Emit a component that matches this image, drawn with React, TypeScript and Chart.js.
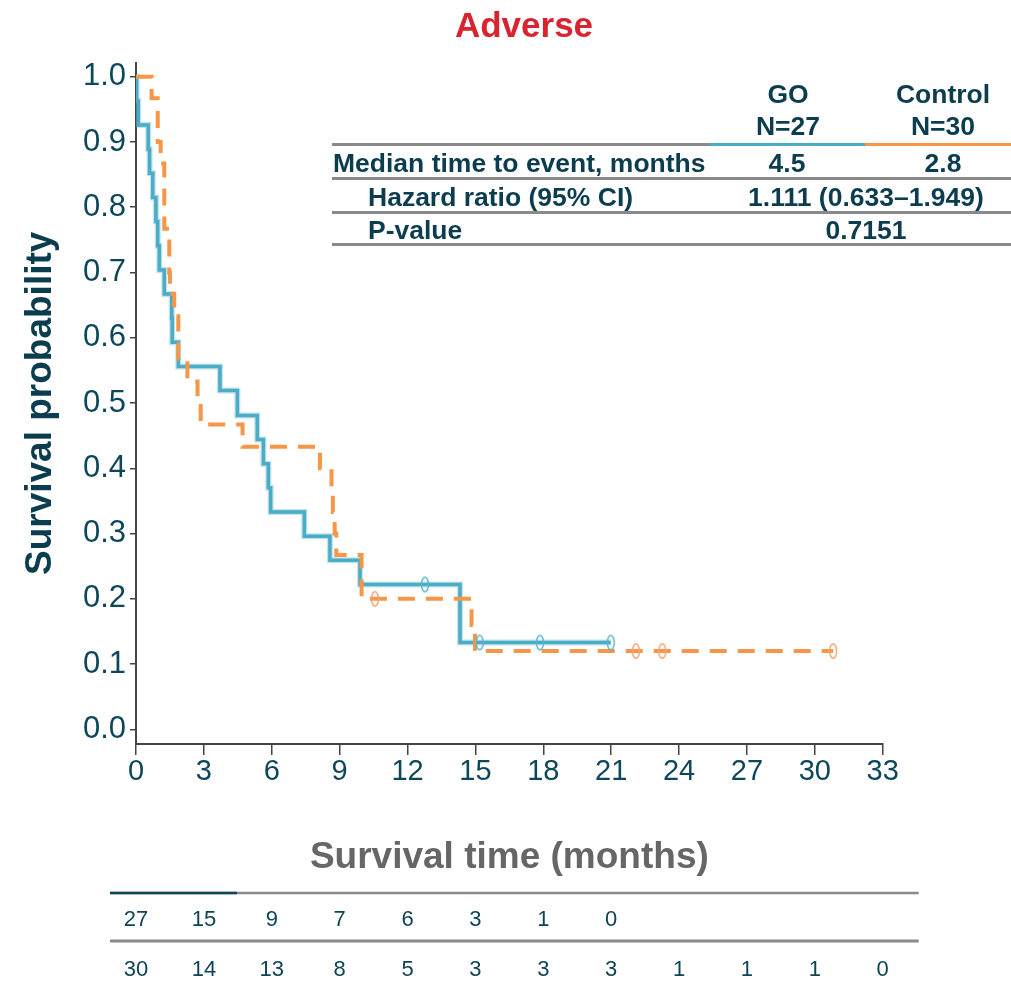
import React, { useEffect, useRef } from "react";
import { Chart, registerables } from "chart.js";

Chart.register(...registerables);

// ---------------- data ----------------
const xTicks = [0, 3, 6, 9, 12, 15, 18, 21, 24, 27, 30, 33];
const yTicks = [0, 0.1, 0.2, 0.3, 0.4, 0.5, 0.6, 0.7, 0.8, 0.9, 1.0];

// GO arm (N=27): step times (months) and survival after each step
const goTimes = [0, 0.03, 0.1, 0.54, 0.6, 0.74, 0.88, 0.96, 1.03, 1.25, 1.58, 1.6, 1.87, 3.71, 4.48, 5.36, 5.63, 5.85, 5.95, 7.44, 8.57, 9.9, 14.32, 20.98];
const goSurv = [1.0, 0.963, 0.926, 0.889, 0.852, 0.815, 0.778, 0.741, 0.704, 0.667, 0.63, 0.593, 0.556, 0.519, 0.481, 0.444, 0.407, 0.37, 0.333, 0.296, 0.259, 0.222, 0.133, 0.133];
const goCensorTimes = [12.77, 15.19, 17.85, 20.98];
const goCensorSurv = [0.222, 0.133, 0.133, 0.133];

// Control arm (N=30)
const ctrlTimes = [0, 0.69, 0.96, 0.96, 1.09, 1.25, 1.25, 1.25, 1.47, 1.47, 1.5, 1.69, 1.87, 1.87, 2.27, 2.72, 2.86, 4.71, 8.13, 8.64, 8.7, 8.78, 8.85, 9.97, 9.97, 14.83, 14.98, 30.81];
const ctrlSurv = [1.0, 0.967, 0.933, 0.9, 0.867, 0.833, 0.8, 0.767, 0.733, 0.7, 0.667, 0.633, 0.6, 0.567, 0.533, 0.5, 0.467, 0.433, 0.4, 0.367, 0.333, 0.3, 0.267, 0.233, 0.2, 0.16, 0.12, 0.12];
const ctrlCensorTimes = [10.56, 22.09, 23.26, 30.81];
const ctrlCensorSurv = [0.2, 0.12, 0.12, 0.12];

// numbers at risk
const riskTimes = [0, 3, 6, 9, 12, 15, 18, 21, 24, 27, 30, 33];
const goRisk = [27, 15, 9, 7, 6, 3, 1, 0];
const ctrlRisk = [30, 14, 13, 8, 5, 3, 3, 3, 1, 1, 1, 0];

// summary table
const armNames = ["GO", "Control"];
const armN = ["N=27", "N=30"];
const medians = ["4.5", "2.8"];
const hazardRatio = "1.111 (0.633–1.949)";
const pValue = "0.7151";

// ---------------- styles ----------------
const FONT = "'Liberation Sans', Arial, Helvetica, sans-serif";
const TEXT = "#0C3D4F";
const TICK = "#0D475A";
const AXIS = "#444444";
const GO_COLOR = "#4BACC6";
const CTRL_COLOR = "#F79646";
const RULE = "#8A8A8A";

function ellipseMarker(color: string) {
  const c = document.createElement("canvas");
  c.width = 10;
  c.height = 18;
  const g = c.getContext("2d")!;
  g.strokeStyle = color;
  g.lineWidth = 1.4;
  g.beginPath();
  g.ellipse(5, 9, 3.5, 7.3, 0, 0, Math.PI * 2);
  g.stroke();
  return c;
}

const riskPlugin = {
  id: "riskTable",
  afterDraw(chart: any) {
    const ctx = chart.ctx as CanvasRenderingContext2D;
    const xs = chart.scales.x;
    const left = xs.getPixelForValue(0) - 26;
    const right = xs.getPixelForValue(33) + 36;
    ctx.save();
    ctx.lineCap = "butt";
    ctx.lineWidth = 2.5;
    ctx.strokeStyle = RULE;
    ctx.beginPath();
    ctx.moveTo(left, 893);
    ctx.lineTo(right, 893);
    ctx.stroke();
    ctx.strokeStyle = "#0D4456";
    ctx.beginPath();
    ctx.moveTo(left, 893);
    ctx.lineTo(237, 893);
    ctx.stroke();
    ctx.lineWidth = 3;
    ctx.strokeStyle = RULE;
    ctx.beginPath();
    ctx.moveTo(left, 941);
    ctx.lineTo(right, 941);
    ctx.stroke();

    ctx.font = `22px ${FONT}`;
    ctx.fillStyle = "#0D4456";
    ctx.textAlign = "center";
    ctx.textBaseline = "alphabetic";
    goRisk.forEach((v, i) => {
      ctx.fillText(String(v), xs.getPixelForValue(riskTimes[i]), 926);
    });
    ctrlRisk.forEach((v, i) => {
      ctx.fillText(String(v), xs.getPixelForValue(riskTimes[i]), 976);
    });
    ctx.restore();
  },
};

function T(props: { x: number; y: number; align?: string; size?: number; color?: string; weight?: number; children: any }) {
  const size = props.size ?? 26.5;
  const style: any = {
    position: "absolute",
    left: props.x,
    top: props.y - 0.8465 * size,
    fontSize: size,
    lineHeight: `${size}px`,
    fontWeight: props.weight ?? 700,
    fontFamily: FONT,
    color: props.color ?? TEXT,
    whiteSpace: "nowrap",
    transform: props.align === "center" ? "translateX(-50%)" : undefined,
  };
  return <div style={style}>{props.children}</div>;
}

function Rule(props: { x1: number; x2: number; y: number; color?: string; h?: number }) {
  const h = props.h ?? 3;
  return (
    <div
      style={{
        position: "absolute",
        left: props.x1,
        width: props.x2 - props.x1,
        top: props.y - h / 2,
        height: h,
        background: props.color ?? RULE,
      }}
    />
  );
}

export default function App() {
  const ref = useRef<HTMLCanvasElement>(null);

  useEffect(() => {
    const canvas = ref.current!;
    const goLine = goTimes.map((t, i) => ({ x: t, y: goSurv[i] }));
    const ctrlLine = ctrlTimes.map((t, i) => ({ x: t, y: ctrlSurv[i] }));
    const goCens = goCensorTimes.map((t, i) => ({ x: t, y: goCensorSurv[i] }));
    const ctrlCens = ctrlCensorTimes.map((t, i) => ({ x: t, y: ctrlCensorSurv[i] }));

    const chart = new Chart(canvas, {
      type: "line",
      data: {
        datasets: [
          {
            label: "GO censored",
            data: goCens,
            showLine: false,
            pointStyle: ellipseMarker("#5BB5CF") as any,
            pointRadius: 5,
            borderColor: "#5BB5CF",
            backgroundColor: "transparent",
            order: -2,
          },
          {
            label: "Control censored",
            data: ctrlCens,
            showLine: false,
            pointStyle: ellipseMarker("#F5A274") as any,
            pointRadius: 5,
            borderColor: "#F5A274",
            backgroundColor: "transparent",
            order: -1,
          },
          {
            label: "Control",
            data: ctrlLine,
            stepped: "before",
            borderColor: CTRL_COLOR,
            borderWidth: 4,
            borderDash: [17, 11],
            pointRadius: 0,
            fill: false,
            order: 0,
          },
          {
            label: "GO",
            data: goLine,
            stepped: "before",
            borderColor: GO_COLOR,
            borderWidth: 3.5,
            pointRadius: 0,
            fill: false,
            order: 1,
          },
          {
            label: "GO halo",
            data: goLine,
            stepped: "before",
            borderColor: "rgba(75,172,198,0.35)",
            borderWidth: 6,
            pointRadius: 0,
            fill: false,
            order: 2,
          },
        ],
      },
      options: {
        responsive: false,
        animation: false,
        devicePixelRatio: 1,
        events: [],
        layout: { padding: { left: 0, top: 62.7, right: 128.3, bottom: 104 } },
        plugins: {
          legend: { display: false },
          tooltip: { enabled: false },
          title: { display: false },
        },
        scales: {
          x: {
            type: "linear",
            min: 0,
            max: 33,
            afterBuildTicks: (s: any) => {
              s.ticks = xTicks.map((v) => ({ value: v }));
            },
            afterFit: (s: any) => {
              s.height = 140;
            },
            ticks: {
              font: { size: 29, family: FONT },
              color: TICK,
              padding: 0,
              maxRotation: 0,
              autoSkip: false,
              callback: (v: any) => String(v),
            },
            grid: { drawOnChartArea: false, drawTicks: true, tickLength: 11, color: AXIS, lineWidth: 1.5 },
            border: { display: true, color: AXIS, width: 2 },
            title: {
              display: true,
              text: "Survival time (months)",
              color: "#666666",
              font: { size: 37, weight: "bold", family: FONT },
              padding: { top: 0, bottom: 3.6 },
            },
          },
          y: {
            type: "linear",
            min: -0.0225,
            max: 1.0215,
            afterBuildTicks: (s: any) => {
              s.ticks = yTicks.map((v) => ({ value: v }));
            },
            afterFit: (s: any) => {
              s.width = 136;
            },
            ticks: {
              font: { size: 31, family: FONT },
              color: TICK,
              padding: 4,
              autoSkip: false,
              callback: (v: any) => Number(v).toFixed(1),
            },
            grid: { drawOnChartArea: false, drawTicks: true, tickLength: 6, color: AXIS, lineWidth: 1.5 },
            border: { display: true, color: AXIS, width: 2 },
            title: {
              display: true,
              text: "Survival probability",
              color: TEXT,
              font: { size: 37, weight: "bold", family: FONT },
              padding: { top: 18.5, bottom: 0 },
            },
          },
        },
      } as any,
      plugins: [riskPlugin],
    });
    return () => chart.destroy();
  }, []);

  return (
    <div style={{ position: "absolute", left: 0, top: 0, width: 1011, height: 988, background: "#fff", overflow: "hidden" }}>
      <canvas ref={ref} width={1011} height={988} style={{ position: "absolute", left: 0, top: 0 }} />
      <T x={524} y={36.7} align="center" size={35} color="#D9242F">Adverse</T>

      <T x={788} y={103} align="center">{armNames[0]}</T>
      <T x={943} y={103} align="center">{armNames[1]}</T>
      <T x={788} y={135} align="center">{armN[0]}</T>
      <T x={943} y={135} align="center">{armN[1]}</T>

      <Rule x1={332} x2={710} y={144} />
      <Rule x1={710} x2={865} y={144} color={GO_COLOR} />
      <Rule x1={865} x2={1011} y={144} color={CTRL_COLOR} />

      <T x={333} y={172}>Median time to event, months</T>
      <T x={787} y={172} align="center">{medians[0]}</T>
      <T x={943} y={172} align="center">{medians[1]}</T>
      <Rule x1={332} x2={1011} y={178} />

      <T x={368} y={206}>Hazard ratio (95% CI)</T>
      <T x={866} y={206} align="center">{hazardRatio}</T>
      <Rule x1={332} x2={1011} y={212} />

      <T x={368} y={239}>P-value</T>
      <T x={866} y={239} align="center">{pValue}</T>
      <Rule x1={332} x2={1011} y={244.5} />
    </div>
  );
}
